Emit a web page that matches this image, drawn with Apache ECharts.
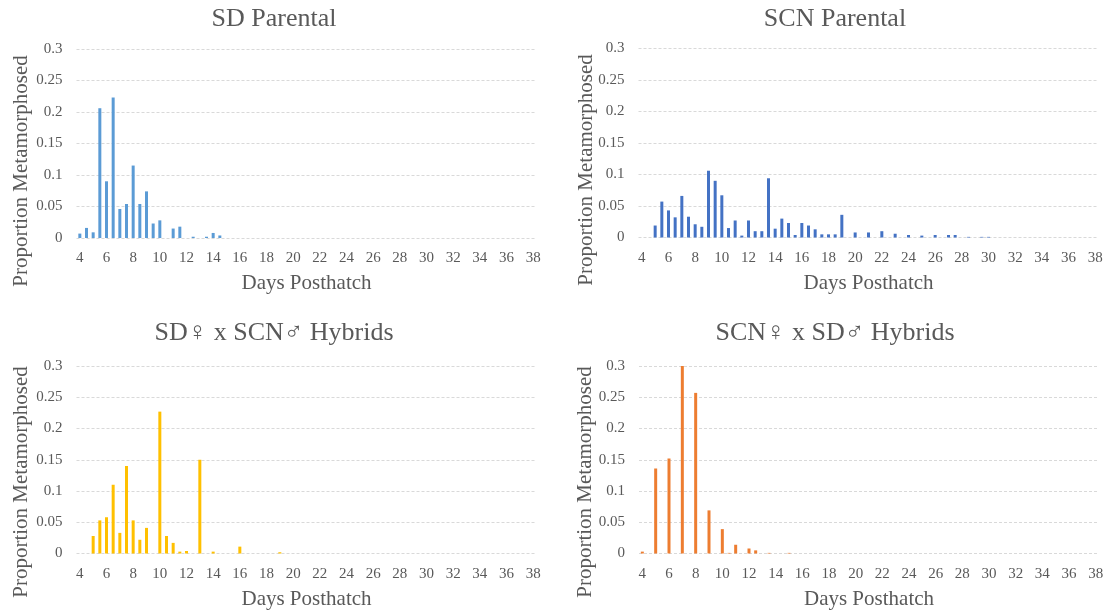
<!DOCTYPE html>
<html>
<head>
<meta charset="utf-8">
<style>html,body{margin:0;padding:0;background:#fff}#c{width:1109px;height:613px}</style>
<script src="https://cdn.jsdelivr.net/npm/echarts@6/dist/echarts.min.js"></script>
</head>
<body>
<div id="c"></div>
<script>
// Category axis (half-day steps)
const categories = ["4","4.5","5","5.5","6","6.5","7","7.5","8","8.5","9","9.5","10","10.5","11","11.5","12","12.5","13","13.5","14","14.5","15","15.5","16","16.5","17","17.5","18","18.5","19","19.5","20","20.5","21","21.5","22","22.5","23","23.5","24","24.5","25","25.5","26","26.5","27","27.5","28","28.5","29","29.5","30","30.5","31","31.5","32","32.5","33","33.5","34","34.5","35","35.5","36","36.5","37","37.5","38"];

const titles = ["SD Parental", "SCN Parental", "SD\u2640 x SCN\u2642 Hybrids", "SCN\u2640 x SD\u2642 Hybrids"];
const xAxisTitle = "Days Posthatch";
const yAxisTitle = "Proportion Metamorphosed";

const sdDays = [4,4.5,5,5.5,6,6.5,7,7.5,8,8.5,9,9.5,10,11,11.5,12.5,13.5,14,14.5];
const sdValues = [0.007,0.016,0.009,0.206,0.09,0.223,0.046,0.054,0.115,0.054,0.074,0.023,0.028,0.015,0.018,0.002,0.002,0.008,0.004];

const scnDays = [5,5.5,6,6.5,7,7.5,8,8.5,9,9.5,10,10.5,11,11.5,12,12.5,13,13.5,14,14.5,15,15.5,16,16.5,17,17.5,18,18.5,19,20,21,22,23,24,25,26,27,27.5,28.5,29.5,30];
const scnValues = [0.019,0.057,0.043,0.032,0.066,0.033,0.021,0.017,0.106,0.09,0.067,0.015,0.027,0.003,0.027,0.01,0.01,0.094,0.014,0.03,0.023,0.004,0.023,0.019,0.013,0.005,0.005,0.005,0.036,0.008,0.008,0.01,0.006,0.004,0.003,0.004,0.004,0.004,0.001,0.001,0.001];

const hybAdays = [5,5.5,6,6.5,7,7.5,8,8.5,9,10,10.5,11,11.5,12,13,14,16,19];
const hybAvalues = [0.028,0.053,0.058,0.11,0.033,0.14,0.053,0.022,0.041,0.227,0.028,0.017,0.003,0.004,0.15,0.003,0.011,0.002];

const hybBdays = [4,5,6,7,8,9,10,10.5,11,12,12.5,13.5,15];
const hybBvalues = [0.003,0.136,0.152,0.3,0.257,0.069,0.039,0.001,0.014,0.008,0.005,0.001,0.001];

const colors = ["#5B9BD5", "#4472C4", "#FFC000", "#ED7D31"];
const seriesDays = [sdDays, scnDays, hybAdays, hybBdays];
const seriesValues = [sdValues, scnValues, hybAvalues, hybBvalues];

const grids = [
  {left: 76.5, top: 49, width: 460, height: 189},
  {left: 638.5, top: 48.5, width: 460, height: 189},
  {left: 76.5, top: 366, width: 460, height: 187.5},
  {left: 639, top: 366, width: 460, height: 187.5}
];
const titlePos = [[274, 19], [835, 19], [274, 333], [835, 333]];
const yNamePos = [[21, 171], [586, 170], [21, 482], [585, 482]];

const font = "Liberation Serif";
const grey = "#595959";

const chart = echarts.init(document.getElementById('c'), null, {renderer: 'canvas'});

const option = {
  animation: false,
  backgroundColor: '#fff',
  grid: grids,
  xAxis: grids.map((g, i) => ({
    type: 'category',
    gridIndex: i,
    data: categories,
    boundaryGap: true,
    axisLine: {show: false},
    axisTick: {show: false},
    axisLabel: {interval: 3, color: grey, fontFamily: font, fontSize: 15, margin: 13},
    name: xAxisTitle,
    nameLocation: 'middle',
    nameGap: 35,
    nameTextStyle: {color: grey, fontFamily: font, fontSize: 21}
  })),
  yAxis: grids.map((g, i) => ({
    type: 'value',
    gridIndex: i,
    min: 0, max: 0.3, interval: 0.05,
    axisLine: {show: false},
    axisTick: {show: false},
    axisLabel: {color: grey, fontFamily: font, fontSize: 15, margin: 14},
    splitLine: {show: true, lineStyle: {color: '#d9d9d9', type: [3, 2], width: 1}}
  })),
  series: seriesValues.map((vals, i) => ({
    type: 'bar',
    xAxisIndex: i,
    yAxisIndex: i,
    barWidth: 3,
    itemStyle: {color: colors[i]},
    data: vals.map((v, k) => [String(seriesDays[i][k]), v])
  })),
  graphic: [
    ...titles.map((t, i) => ({
      type: 'text', x: titlePos[i][0], y: titlePos[i][1],
      style: {text: t, fill: grey, font: '26px "' + font + '"', textAlign: 'center', textVerticalAlign: 'middle'}
    })),
    ...yNamePos.map((p) => ({
      type: 'text', x: p[0], y: p[1], rotation: Math.PI / 2,
      style: {text: yAxisTitle, fill: grey, font: '21px "' + font + '"', textAlign: 'center', textVerticalAlign: 'middle'}
    }))
  ]
};
chart.setOption(option);
</script>
</body>
</html>
